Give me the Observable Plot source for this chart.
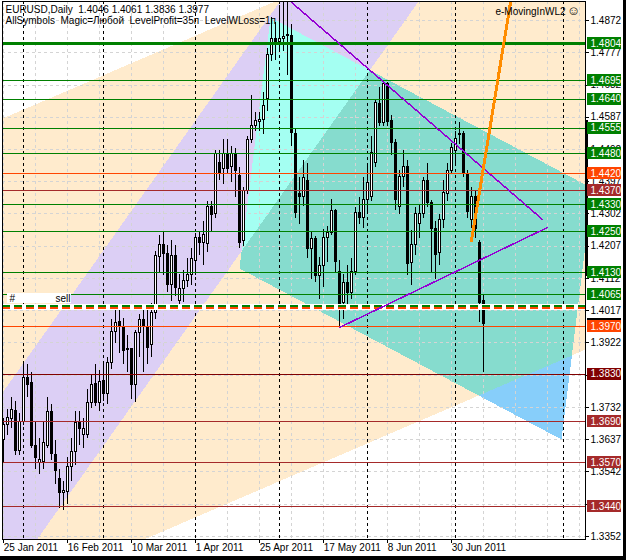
<!DOCTYPE html>
<html><head><meta charset="utf-8">
<script src="https://cdn.jsdelivr.net/npm/d3@7"></script>
<script src="https://cdn.jsdelivr.net/npm/@observablehq/plot@0.6"></script>
<style>
body{margin:0;background:#fff;}
#wrap{position:relative;width:626px;height:560px;overflow:hidden;background:#fff;}
#wrap svg{position:absolute;left:0;top:0;shape-rendering:crispEdges;}
#wrap svg text{shape-rendering:auto;}
.edgeR{position:absolute;right:0;top:0;width:3px;height:560px;background:#000;}
.edgeB{position:absolute;left:0;bottom:0;width:626px;height:4px;background:#000;}
</style></head><body><div id="wrap"><div class="edgeR"></div><div class="edgeB"></div></div>
<script>
// ---- candles: EURUSD daily ----
const dates = ["2011-01-25","2011-01-26","2011-01-27","2011-01-28","2011-01-31",
"2011-02-01","2011-02-02","2011-02-03","2011-02-04","2011-02-07","2011-02-08","2011-02-09","2011-02-10","2011-02-11","2011-02-14","2011-02-15","2011-02-16","2011-02-17","2011-02-18","2011-02-21","2011-02-22","2011-02-23","2011-02-24","2011-02-25","2011-02-28",
"2011-03-01","2011-03-02","2011-03-03","2011-03-04","2011-03-07","2011-03-08","2011-03-09","2011-03-10","2011-03-11","2011-03-14","2011-03-15","2011-03-16","2011-03-17","2011-03-18","2011-03-21","2011-03-22","2011-03-23","2011-03-24","2011-03-25","2011-03-28","2011-03-29","2011-03-30","2011-03-31",
"2011-04-01","2011-04-04","2011-04-05","2011-04-06","2011-04-07","2011-04-08","2011-04-11","2011-04-12","2011-04-13","2011-04-14","2011-04-15","2011-04-18","2011-04-19","2011-04-20","2011-04-21","2011-04-22","2011-04-25","2011-04-26","2011-04-27","2011-04-28","2011-04-29",
"2011-05-02","2011-05-03","2011-05-04","2011-05-05","2011-05-06","2011-05-09","2011-05-10","2011-05-11","2011-05-12","2011-05-13","2011-05-16","2011-05-17","2011-05-18","2011-05-19","2011-05-20","2011-05-23","2011-05-24","2011-05-25","2011-05-26","2011-05-27","2011-05-30","2011-05-31",
"2011-06-01","2011-06-02","2011-06-03","2011-06-06","2011-06-07","2011-06-08","2011-06-09","2011-06-10","2011-06-13","2011-06-14","2011-06-15","2011-06-16","2011-06-17","2011-06-20","2011-06-21","2011-06-22","2011-06-23","2011-06-24","2011-06-27","2011-06-28","2011-06-29","2011-06-30",
"2011-07-01","2011-07-04","2011-07-05","2011-07-06","2011-07-07","2011-07-08","2011-07-11","2011-07-12"];
const open = [1.3635,1.3679,1.3697,1.3723,1.3605,
1.3688,1.3820,1.3803,1.3620,1.3567,1.3570,1.3620,1.3720,1.3593,1.3520,1.3479,1.3482,1.3558,1.3600,1.3685,1.3650,1.3650,1.3744,1.3800,1.3744,
1.3811,1.3773,1.3862,1.3953,1.3983,1.3965,1.3900,1.3903,1.3797,1.3950,1.3991,1.3968,1.3915,1.4009,1.4174,1.4212,1.4183,1.4094,1.4177,1.4045,1.4080,1.4106,1.4121,
1.4165,1.4230,1.4218,1.4215,1.4324,1.4303,1.4451,1.4436,1.4480,1.4439,1.4480,1.4413,1.4222,1.4370,1.4519,1.4560,1.4572,1.4580,1.4642,1.4769,1.4819,
1.4810,1.4819,1.4825,1.4825,1.4539,1.4362,1.4351,1.4400,1.4200,1.4227,1.4120,1.4150,1.4230,1.4245,1.4310,1.4130,1.4041,1.4100,1.4068,1.4130,1.4305,1.4290,
1.4342,1.4351,1.4451,1.4627,1.4571,1.4686,1.4575,1.4510,1.4324,1.4410,1.4439,1.4159,1.4212,1.4274,1.4303,1.4398,1.4333,1.4259,1.4186,1.4283,1.4362,1.4430,
1.4489,1.4539,1.4539,1.4418,1.4283,1.4351,1.4218,1.4046];
const high = [1.3700,1.3725,1.3760,1.3750,1.3715,
1.3865,1.3860,1.3835,1.3690,1.3640,1.3690,1.3760,1.3740,1.3635,1.3550,1.3515,1.3586,1.3640,1.3720,1.3720,1.3700,1.3785,1.3825,1.3860,1.3840,
1.3860,1.3880,1.3990,1.4035,1.4035,1.3995,1.3945,1.3906,1.3960,1.4005,1.4025,1.4020,1.4037,1.4192,1.4240,1.4250,1.4210,1.4225,1.4210,1.4125,1.4135,1.4170,1.4200,
1.4245,1.4250,1.4280,1.4340,1.4340,1.4490,1.4490,1.4520,1.4520,1.4500,1.4495,1.4440,1.4380,1.4530,1.4650,1.4600,1.4600,1.4660,1.4790,1.4880,1.4865,
1.4915,1.4930,1.4940,1.4860,1.4555,1.4410,1.4460,1.4450,1.4250,1.4235,1.4175,1.4255,1.4265,1.4345,1.4315,1.4165,1.4125,1.4150,1.4170,1.4320,1.4350,1.4410,
1.4450,1.4530,1.4640,1.4675,1.4695,1.4690,1.4592,1.4520,1.4430,1.4489,1.4460,1.4253,1.4320,1.4330,1.4410,1.4450,1.4342,1.4280,1.4300,1.4400,1.4450,1.4510,
1.4545,1.4572,1.4545,1.4430,1.4380,1.4370,1.4224,1.4061];
const low = [1.3567,1.3650,1.3670,1.3590,1.3590,
1.3680,1.3760,1.3610,1.3550,1.3535,1.3550,1.3610,1.3575,1.3505,1.3435,1.3430,1.3445,1.3515,1.3560,1.3620,1.3610,1.3640,1.3730,1.3735,1.3720,
1.3750,1.3740,1.3845,1.3920,1.3890,1.3860,1.3835,1.3757,1.3748,1.3880,1.3835,1.3860,1.3880,1.3990,1.4130,1.4120,1.4070,1.4045,1.4060,1.4020,1.4040,1.4085,1.4090,
1.4120,1.4180,1.4150,1.4190,1.4250,1.4290,1.4400,1.4390,1.4420,1.4395,1.4350,1.4200,1.4205,1.4360,1.4510,1.4545,1.4545,1.4535,1.4605,1.4750,1.4755,
1.4780,1.4780,1.4710,1.4500,1.4290,1.4270,1.4325,1.4170,1.4110,1.4100,1.4050,1.4085,1.4160,1.4240,1.4130,1.3968,1.3990,1.4020,1.4050,1.4120,1.4270,1.4260,
1.4300,1.4340,1.4440,1.4560,1.4560,1.4560,1.4474,1.4312,1.4300,1.4380,1.4121,1.4091,1.4180,1.4230,1.4290,1.4320,1.4127,1.4110,1.4150,1.4260,1.4340,1.4420,
1.4450,1.4507,1.4410,1.4290,1.4260,1.4230,1.3982,1.3836];
const close = [1.3679,1.3700,1.3726,1.3605,1.3688,
1.3820,1.3797,1.3620,1.3582,1.3576,1.3626,1.3720,1.3596,1.3546,1.3481,1.3485,1.3558,1.3600,1.3685,1.3670,1.3670,1.3744,1.3797,1.3744,1.3806,
1.3773,1.3862,1.3953,1.3980,1.3968,1.3897,1.3903,1.3797,1.3950,1.3991,1.3970,1.3906,1.4009,1.4177,1.4212,1.4183,1.4094,1.4177,1.4085,1.4080,1.4106,1.4121,1.4168,
1.4230,1.4218,1.4240,1.4324,1.4300,1.4480,1.4424,1.4480,1.4436,1.4480,1.4430,1.4218,1.4370,1.4519,1.4560,1.4575,1.4580,1.4619,1.4769,1.4819,1.4804,
1.4819,1.4822,1.4828,1.4542,1.4306,1.4353,1.4407,1.4200,1.4227,1.4120,1.4150,1.4230,1.4245,1.4310,1.4160,1.4018,1.4100,1.4068,1.4130,1.4305,1.4290,1.4342,
1.4392,1.4483,1.4630,1.4571,1.4686,1.4572,1.4510,1.4342,1.4412,1.4439,1.4156,1.4212,1.4301,1.4303,1.4398,1.4333,1.4259,1.4180,1.4283,1.4365,1.4430,1.4495,
1.4524,1.4536,1.4421,1.4309,1.4351,1.4259,1.4041,1.3977];

// ---- axes ----
const dateTickBars = [0,16,32,48,64,80,96,112];
const dateTickLabels = ["25 Jan 2011","16 Feb 2011","10 Mar 2011","1 Apr 2011","25 Apr 2011","17 May 2011","8 Jun 2011","30 Jun 2011"];
const gridBars = [0,8,16,24,32,40,48,56,64,72,80,88,96,104,112,120,128,136,144];
const separatorBars = [5,25,48,69,91,113,140];
const priceTicks = [1.4872,1.4777,1.4682,1.4587,1.4492,1.4397,1.4302,1.4207,1.4112,1.4017,1.3922,1.3827,1.3732,1.3637,1.3542,1.3447,1.3352];
const hiddenTickLabels = [1.3827,1.3447]; // fully covered by level boxes

// ---- horizontal levels ----
const levelPrices = [1.4804,1.4695,1.4640,1.4555,1.4480,1.4420,1.4370,1.4330,1.4250,1.4130,1.4065,1.3970,1.3830,1.3690,1.3570,1.3440];
const levelColors = ["#008000","#008000","#008000","#008000","#008000","#FF4500","#A52A2A","#008000","#008000","#008000","#008000","#FF4500","#800000","#A52A2A","#A52A2A","#A52A2A"];
const levelWidths = [3,1,1,1,1,1,1,1,1,1,1,1,1,1,1,1];
const bidPrice = 1.3977;
const orderBand = 1.4028, orderGreen = 1.40310, orderOrange = 1.40251;
const scaleBar = [1.4577, 1.4118];

// ---- channel objects (bar, price) ----
const peachX = [-3.325, 149.175], peachUpper = [1.45677, 1.53404], peachLower = [1.31487, 1.39214];
const lavX = [-5.825, 111.675], lavUpper = [1.36843, 1.56364], lavLower = [1.31084, 1.50605];
const aquaX = [66.675, 147.175, 139.425, 58.925], aquaY = [1.48808, 1.43771, 1.36377, 1.41415];
const trendDownX = [71, 134.675], trendDownY = [1.4935, 1.42858];
const trendUpX = [84, 135.925], trendUpY = [1.3968, 1.42622];
const orangeX = [116.925, 127.575], orangeY = [1.42239, 1.49898];
const sellLabelX = [0.925, 16.925], sellLabelY = [1.40383, 1.40678];

// ---- build polygons ----
const peachPoly = [[peachX[0],peachUpper[0]],[peachX[1],peachUpper[1]],[peachX[1],peachLower[1]],[peachX[0],peachLower[0]]];
const lavPoly = [[lavX[0],lavUpper[0]],[lavX[1],lavUpper[1]],[lavX[1],lavLower[1]],[lavX[0],lavLower[0]]];
const aquaPoly = aquaX.map((x,i)=>[x,aquaY[i]]);
function area(p){let a=0;for(let i=0;i<p.length;i++){const q=p[i],r=p[(i+1)%p.length];a+=q[0]*r[1]-r[0]*q[1];}return a;}
function clipPoly(subject, clipper){
  const sgn = Math.sign(area(clipper));
  let out = subject;
  for(let i=0;i<clipper.length;i++){
    const A=clipper[i],B=clipper[(i+1)%clipper.length];
    const side=p=>sgn*((B[0]-A[0])*(p[1]-A[1])-(B[1]-A[1])*(p[0]-A[0]));
    const inp=out; out=[];
    for(let j=0;j<inp.length;j++){
      const P=inp[j],Q=inp[(j+1)%inp.length];
      const sp=side(P),sq=side(Q);
      if(sp>=0) out.push(P);
      if((sp>=0)!==(sq>=0)){const t=sp/(sp-sq);out.push([P[0]+t*(Q[0]-P[0]),P[1]+t*(Q[1]-P[1])]);}
    }
    if(!out.length) break;
  }
  return out;
}
const tealPoly = clipPoly(peachPoly, aquaPoly);
const cyanPoly = clipPoly(lavPoly, aquaPoly);
const pts = p => p.map(([x,y])=>({x,y}));

const idx = d3.range(dates.length);
const levels = levelPrices.map((p,i)=>({p,c:levelColors[i],w:levelWidths[i]}));
const xDom = [-0.325, 145.425], yDom = [1.33431, 1.49280];
const E = xDom[1];
const F = "Liberation Sans, Arial, sans-serif";
const shownTicks = priceTicks.filter(t=>!hiddenTickLabels.includes(t));

const chart = Plot.plot({
  width:626, height:560, marginLeft:2, marginRight:41, marginTop:1, marginBottom:21,
  x:{domain:xDom, axis:null}, y:{domain:yDom, axis:null},
  color:{type:"identity"},
  style:{fontFamily:F, fontSize:"10px", background:"white", overflow:"visible"},
  marks:[
    Plot.hull(pts(peachPoly),{x:"x",y:"y",fill:"#FFEBCD",stroke:"none",clip:true}),
    Plot.hull(pts(lavPoly),{x:"x",y:"y",fill:"#DCCFF5",stroke:"none",clip:true}),
    Plot.hull(pts(aquaPoly),{x:"x",y:"y",fill:"#87CEFA",stroke:"none",clip:true}),
    Plot.hull(pts(tealPoly),{x:"x",y:"y",fill:"#86DCCE",stroke:"none",clip:true}),
    Plot.hull(pts(cyanPoly),{x:"x",y:"y",fill:"#A4FFF2",stroke:"none",clip:true}),
    // grid
    Plot.ruleY(priceTicks,{y:d=>d,stroke:"#D4D4D4",strokeDasharray:"3,3",clip:true}),
    Plot.ruleX(gridBars,{x:d=>d,stroke:"#D4D4D4",strokeDasharray:"3,3",clip:true}),
    Plot.ruleX(separatorBars,{x:d=>d,stroke:"black",strokeDasharray:"3,3",clip:true}),
    // candles
    Plot.ruleX(idx,{x:i=>i,y1:i=>low[i],y2:i=>high[i],stroke:"black",clip:true}),
    Plot.rect(idx,{x1:i=>i-0.25,x2:i=>i+0.25,
      y1:i=>Math.min(open[i],close[i]),
      y2:i=>Math.max(open[i],close[i],Math.min(open[i],close[i])+0.00003),
      fill:i=>close[i]>=open[i]?"white":"black",stroke:"black",clip:true}),
    // levels
    Plot.ruleY(levels,{y:"p",stroke:"c",strokeWidth:"w",clip:true}),
    // order lines
    Plot.ruleY([orderBand],{y:d=>d,stroke:"white",strokeWidth:6,clip:true}),
    Plot.ruleY([orderGreen],{y:d=>d,stroke:"#008000",strokeWidth:2,strokeDasharray:"8,4",clip:true}),
    Plot.ruleY([orderOrange],{y:d=>d,stroke:"#FF4500",strokeWidth:2,strokeDasharray:"8,4",clip:true}),
    Plot.rect([0],{x1:sellLabelX[0],x2:sellLabelX[1],y1:sellLabelY[0],y2:sellLabelY[1],fill:"white"}),
    Plot.text(["#"],{x:sellLabelX[0],y:(sellLabelY[0]+sellLabelY[1])/2,text:d=>d,textAnchor:"start",dx:2,fill:"black",fontSize:10}),
    Plot.text(["sell"],{x:sellLabelX[1],y:(sellLabelY[0]+sellLabelY[1])/2,text:d=>d,textAnchor:"end",dx:-1,fill:"black",fontSize:10}),
    // trend lines
    Plot.line(trendDownX.map((x,i)=>({x,y:trendDownY[i]})),{x:"x",y:"y",stroke:"#9400D3",clip:true}),
    Plot.line(trendUpX.map((x,i)=>({x,y:trendUpY[i]})),{x:"x",y:"y",stroke:"#9400D3",clip:true}),
    Plot.line(orangeX.map((x,i)=>({x,y:orangeY[i]})),{x:"x",y:"y",stroke:"#FF8C00",strokeWidth:3,clip:true}),
    Plot.frame({stroke:"black"}),
    // right axis
    Plot.ruleY(priceTicks,{y:d=>d,x1:E,x2:E+1,stroke:"black"}),
    Plot.text(shownTicks,{y:d=>d,x:E,text:d=>d.toFixed(4),textAnchor:"start",dx:5,fill:"black",fontSize:10}),
    Plot.ruleX([0],{x:E,y1:scaleBar[0],y2:scaleBar[1],stroke:"black",strokeWidth:3,dx:1}),
    Plot.rect([bidPrice],{x1:E,x2:E,y1:d=>d,y2:d=>d,insetLeft:2,insetRight:-36,insetTop:-6,insetBottom:-6,fill:"black"}),
    Plot.rect(levels,{x1:E,x2:E,y1:"p",y2:"p",insetLeft:2,insetRight:-36,insetTop:-6,insetBottom:-6,fill:"c"}),
    Plot.text(levels,{x:E,y:"p",text:d=>d.p.toFixed(4),textAnchor:"start",dx:5,fill:"white",fontSize:10}),
    // bottom axis
    Plot.ruleX(dateTickBars,{x:d=>d,y1:yDom[0],y2:yDom[0]-4/3394.7,stroke:"black"}),
    Plot.text(dateTickBars,{x:d=>d,y:yDom[0],text:(d,i)=>dateTickLabels[i],textAnchor:"start",lineAnchor:"top",dx:0,dy:4,fill:"black",fontSize:10}),
    // header
    Plot.text(["EURUSD,Daily\u00a0\u00a01.4046 1.4061 1.3836 1.3977"],{frameAnchor:"top-left",text:d=>d,dx:3,dy:4,lineAnchor:"top",textAnchor:"start",fill:"black",fontSize:10}),
    Plot.text(["AllSymbols\u00a0\u00a0Magic=Любой\u00a0\u00a0LevelProfit=35п\u00a0\u00a0LevelWLoss=1п"],{frameAnchor:"top-left",text:d=>d,dx:3,dy:15,lineAnchor:"top",textAnchor:"start",fill:"black",fontSize:10}),
    Plot.text(["e-MovingInWL2"],{frameAnchor:"top-right",text:d=>d,dx:-20,dy:6,lineAnchor:"top",textAnchor:"end",fill:"black",fontSize:10}),
    Plot.text(["\u263A"],{frameAnchor:"top-right",text:d=>d,dx:-12,dy:4,lineAnchor:"top",textAnchor:"middle",fill:"black",fontSize:13})
  ]
});
document.getElementById("wrap").prepend(chart);
</script></body></html>
